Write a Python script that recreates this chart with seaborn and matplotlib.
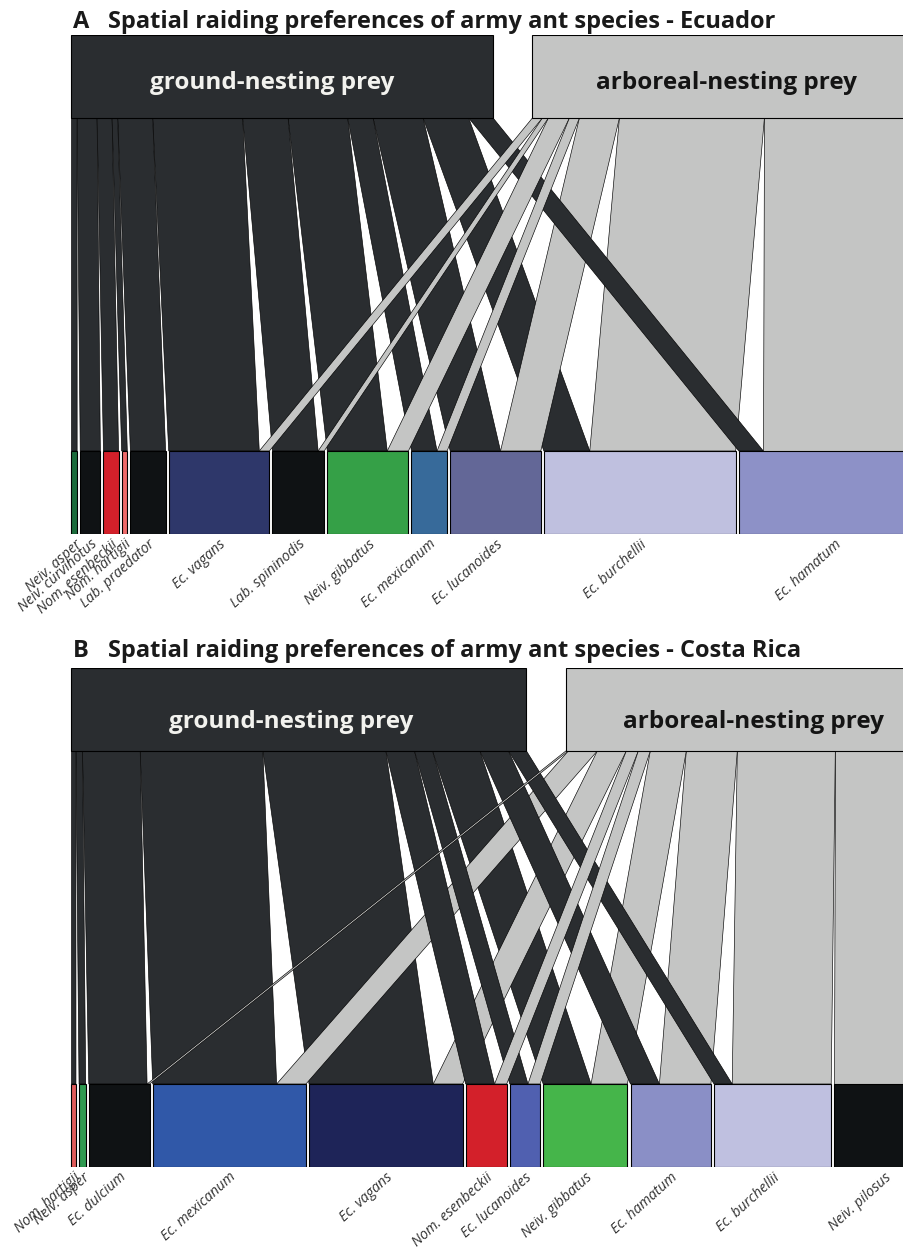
import numpy as np
import matplotlib
matplotlib.use("Agg")
import matplotlib.pyplot as plt
import seaborn as sns

sns.set_theme(style="white")
plt.rcParams["font.family"] = ["Open Sans", "DejaVu Sans"]

# ---------------- data: Ecuador ----------------
ecu_species = ["Neiv. asper", "Neiv. curvinotus", "Nom. esenbeckii", "Nom. hartigii",
               "Lab. praedator", "Ec. vagans", "Lab. spininodis", "Neiv. gibbatus",
               "Ec. mexicanum", "Ec. lucanoides", "Ec. burchellii", "Ec. hamatum"]
ecu_ground = [5.6, 20.0, 15.0, 5.6, 35.0, 90.0, 45.4, 59.6, 25.4, 50.0, 45.6, 24.4]
ecu_arboreal = [0, 0, 0, 0, 0, 10.0, 6.0, 21.0, 10.0, 40.0, 145.0, 165.0]
ecu_colors = ["#1b6b3b", "#0f1214", "#d3202a", "#f06b6b", "#0f1214", "#2e376a",
              "#0f1214", "#35a047", "#376a9a", "#636797", "#bfc0df", "#8d91c7"]

# ---------------- data: Costa Rica ----------------
cr_species = ["Nom. hartigii", "Neiv. asper", "Ec. dulcium", "Ec. mexicanum", "Ec. vagans",
              "Nom. esenbeckii", "Ec. lucanoides", "Neiv. gibbatus", "Ec. hamatum",
              "Ec. burchellii", "Neiv. pilosus"]
cr_ground = [4.4, 6.6, 57.7, 122.7, 123.0, 28.6, 18.0, 47.4, 28.6, 18.0, 0]
cr_arboreal = [0, 0, 2.5, 29.0, 29.0, 12.0, 12.0, 36.0, 51.0, 98.0, 100.0]
cr_colors = ["#e05a5a", "#2e9a50", "#0f1214", "#3058a8", "#1e2458", "#d3202a",
             "#5060b0", "#45b54a", "#8a8fc6", "#bfc0e0", "#0f1214"]

prey_types = ["ground-nesting prey", "arboreal-nesting prey"]
prey_colors = ["#2a2d30", "#c4c5c4"]
prey_text = ["#f2f2ee", "#141414"]

# ---------------- layout (pixel-like units) ----------------
W, H = 904, 1251
LEFT = 71.5          # left edge of both rows
TOP_GAP = 39.3       # gap between the two prey boxes
LOW_GAP = 3.1        # gap between army-ant boxes
BOX_H = 83.0
LINK_H = 333.0


def row_layout(widths, gap, total):
    widths = np.asarray(widths, float)
    scale = (total - gap * (len(widths) - 1)) / widths.sum()
    w = widths * scale
    left = np.concatenate([[0.0], np.cumsum(w[:-1] + gap)])
    return left, w, scale


def draw_panel(ax, species, ground, arboreal, colors, label_drop, label_shift):
    web = np.vstack([ground, arboreal]).astype(float)   # prey type x ant species
    row_total = web.sum() + TOP_GAP
    hi_left, hi_w, hi_s = row_layout(web.sum(axis=1), TOP_GAP, row_total)
    lo_left, lo_w, lo_s = row_layout(web.sum(axis=0), LOW_GAP, row_total)

    y_lo_top = BOX_H
    y_hi_bot = BOX_H + LINK_H

    links = []
    for k in range(web.shape[0]):
        top_cum = hi_left[k]
        for i in range(web.shape[1]):
            v = web[k, i]
            if v <= 0:
                continue
            t0, t1 = top_cum, top_cum + v * hi_s
            top_cum = t1
            b0 = lo_left[i] + web[:k, i].sum() * lo_s
            b1 = b0 + v * lo_s
            links.append((v, k, t0, t1, b0, b1))

    # wide links first so that narrow ones stay visible
    for v, k, t0, t1, b0, b1 in sorted(links, key=lambda r: -r[0]):
        ax.fill([t0, t1, b1, b0], [y_hi_bot, y_hi_bot, y_lo_top, y_lo_top],
                facecolor=prey_colors[k], edgecolor="black", linewidth=0.45,
                joinstyle="miter", zorder=2)

    # army ant boxes
    ax.bar(lo_left, BOX_H, width=lo_w, bottom=0, align="edge", color=colors,
           edgecolor="black", linewidth=0.8, zorder=3)
    # prey boxes
    ax.bar(hi_left, BOX_H, width=hi_w, bottom=y_hi_bot, align="edge",
           color=prey_colors, edgecolor="black", linewidth=0.8, zorder=3)

    for k, name in enumerate(prey_types):
        ax.text(hi_left[k] + hi_w[k] / 2 + label_shift[k],
                y_hi_bot + BOX_H / 2 - label_drop, name,
                ha="center", va="center", fontsize=17.5, fontweight="bold",
                color=prey_text[k], zorder=4)

    for i, name in enumerate(species):
        ax.text(lo_left[i] + lo_w[i] / 2, -3, name, rotation=42, rotation_mode="anchor",
                ha="right", va="top", fontsize=10.3, style="italic", color="#333333",
                clip_on=False, zorder=4)

    ax.set_xlim(-LEFT, W - LEFT)
    ax.set_ylim(0, 2 * BOX_H + LINK_H)
    ax.set_axis_off()


fig = plt.figure(figsize=(W / 100, H / 100), dpi=100)
fig.patch.set_facecolor("white")

panels = [
    ("A", "Spatial raiding preferences of army ant species - Ecuador", 28, 35,
     ecu_species, ecu_ground, ecu_arboreal, ecu_colors, 6.5, (-10, -4)),
    ("B", "Spatial raiding preferences of army ant species - Costa Rica", 657, 668,
     cr_species, cr_ground, cr_arboreal, cr_colors, 12.0, (-8, 3)),
]

for letter, title, baseline, top_px, sp, gr, ar, cols, drop, shift in panels:
    height = 2 * BOX_H + LINK_H
    ax = fig.add_axes([0, 1 - (top_px + height) / H, 1, height / H])
    draw_panel(ax, sp, gr, ar, cols, drop, shift)
    fig.text(73 / W, 1 - baseline / H, letter, ha="left", va="baseline",
             fontsize=17, fontweight="bold", color="#1a1a1a")
    fig.text(108 / W, 1 - baseline / H, title, ha="left", va="baseline",
             fontsize=17, fontweight="bold", color="#1a1a1a")

fig.savefig("out.png", dpi=100, facecolor="white")
